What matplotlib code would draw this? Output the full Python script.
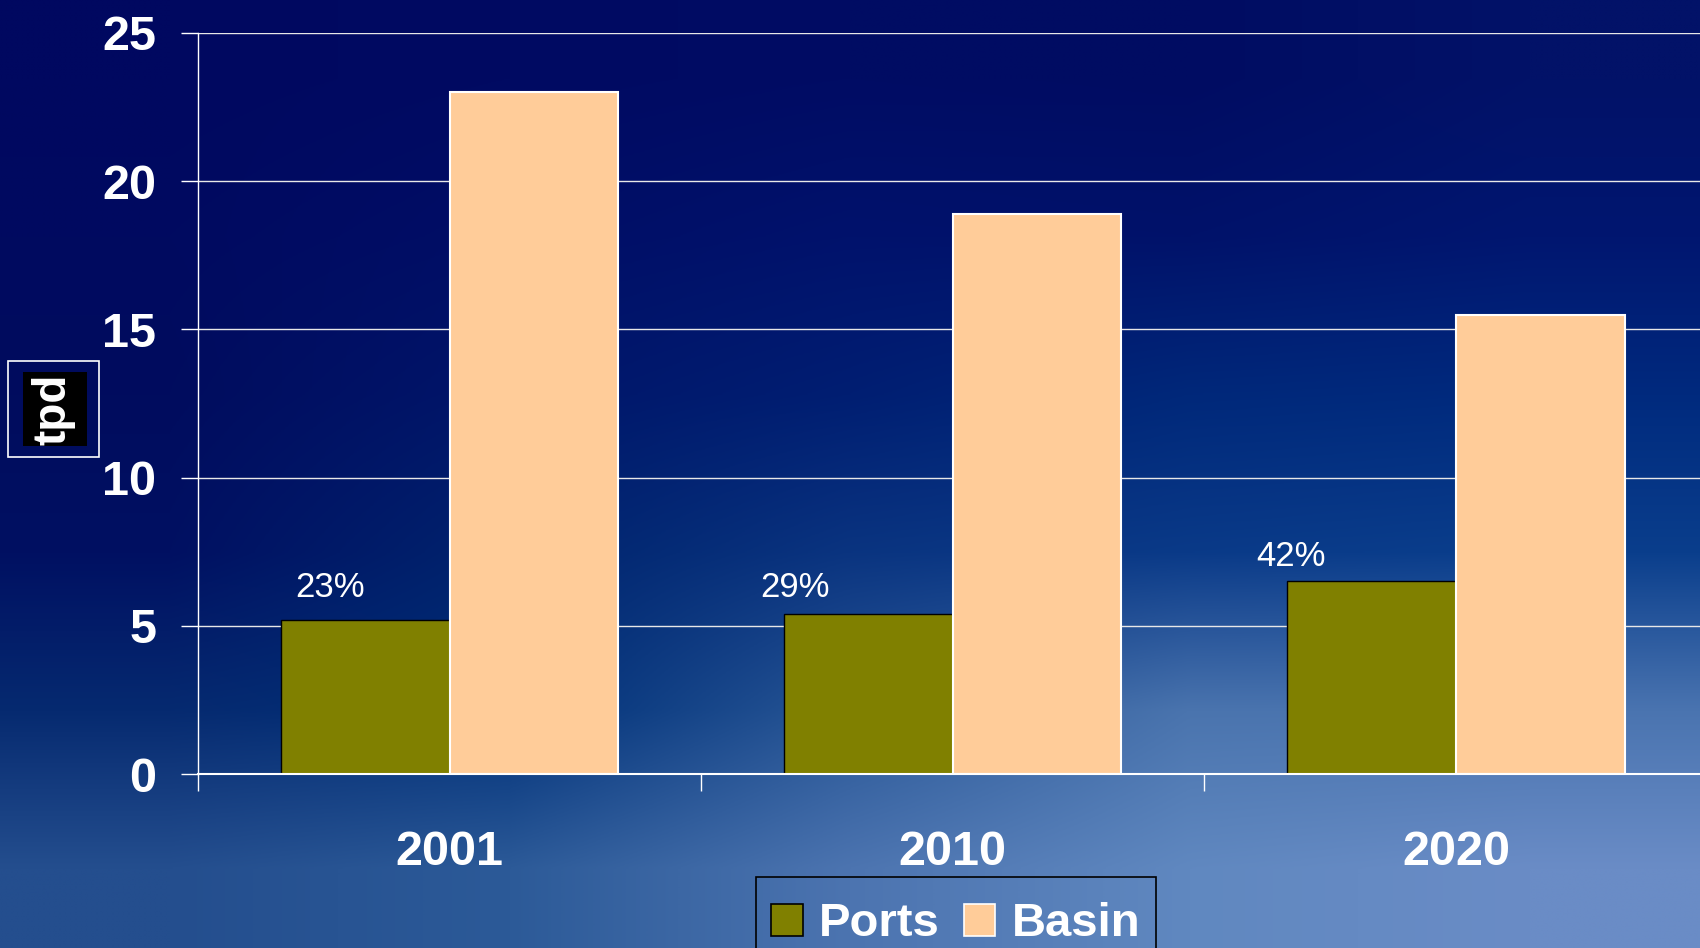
"""Ports vs Basin, tpd por ano - barras agrupadas sobre fundo azul."""
import numpy as np
import matplotlib
matplotlib.use("Agg")
import matplotlib.pyplot as plt
from matplotlib.patches import Patch, Rectangle
from matplotlib.colors import to_rgb

# dados
anos = ["2001", "2010", "2020"]
ports = [5.2, 5.4, 6.5]
basin = [23.0, 18.9, 15.5]
yticks = [0, 5, 10, 15, 20, 25]

COR_PORTS = "#808000"
COR_BASIN = "#FFCC99"

plt.rcParams["font.family"] = ["Liberation Sans", "DejaVu Sans"]

fig = plt.figure(figsize=(17, 9.48), dpi=100)

# fundo: gradiente azul (grade de cores suavizada), de cima para baixo
grade = [
    ["#000860", "#000a62", "#000c64", "#000c62", "#021268"],
    ["#000a60", "#000e66", "#00126c", "#00126a", "#001670"],
    ["#000c5e", "#00166a", "#001e72", "#00287a", "#002a7e"],
    ["#001062", "#00246e", "#0a3480", "#0a3a88", "#0a3e8c"],
    ["#062a70", "#003078", "#285696", "#4a74ae", "#4a74b0"],
    ["#244e8e", "#2c5a98", "#4c74b0", "#6088c0", "#6a8cc6"],
]
img = np.array([[to_rgb(c) for c in linha] for linha in grade])
bg = fig.add_axes([0, 0, 1, 1], zorder=-10)
bg.imshow(img, aspect="auto", interpolation="bilinear", extent=[0, 1, 0, 1])
bg.axis("off")

ax = fig.add_axes([0.1165, 0.1835, 0.888, 0.7817])
ax.set_facecolor("none")

x = np.arange(len(anos))
w = 0.335
ax.bar(x - w / 2, ports, w, color=COR_PORTS, edgecolor="black", linewidth=1.0, zorder=3)
ax.bar(x + w / 2, basin, w, color=COR_BASIN, edgecolor="white", linewidth=1.5, zorder=3)

# percentuais (ports / basin)
dx = [-0.07, -0.146, -0.16]
dy = [1.1, 0.9, 0.85]
for i, (p, b) in enumerate(zip(ports, basin)):
    ax.text(x[i] - w / 2 + dx[i], p + dy[i], f"{round(100 * p / b)}%", color="white",
            fontsize=25, ha="center", va="center", zorder=4)

ax.set_xlim(-0.5, len(anos) - 0.5)
ax.set_ylim(0, 25)
ax.set_yticks(yticks)
ax.yaxis.grid(True, color="#e8e8e8", lw=1.0, zorder=0)
ax.tick_params(axis="y", colors="white", length=12, width=1.0, pad=18,
               labelsize=35, direction="out")
for t in ax.get_yticklabels():
    t.set_fontweight("bold")

ax.set_xticks(np.arange(len(anos) + 1) - 0.5)
ax.set_xticklabels([])
ax.tick_params(axis="x", which="major", colors="white", length=12, width=1.0, direction="out")
ax.set_xticks(x, minor=True)
ax.set_xticklabels(anos, minor=True, fontsize=35, fontweight="bold", color="white")
ax.tick_params(axis="x", which="minor", length=0, pad=40)

for s in ("top", "right"):
    ax.spines[s].set_visible(False)
ax.spines["left"].set_color("white")
ax.spines["left"].set_linewidth(1.0)
ax.spines["bottom"].set_color("white")
ax.spines["bottom"].set_linewidth(1.5)
ax.spines["bottom"].set_zorder(5)

# rótulo do eixo y em caixa
fig.patches.append(Rectangle((0.0047, 0.5179), 0.0535, 0.1013, transform=fig.transFigure,
                             facecolor="none", edgecolor="white", lw=1.2))
fig.patches.append(Rectangle((0.0135, 0.5295), 0.0377, 0.0781, transform=fig.transFigure,
                             facecolor="black", edgecolor="none"))
fig.text(0.0316, 0.5686, "tpd", rotation=90, color="white", fontsize=33, fontweight="bold",
         ha="center", va="center")

# legenda (moldura desenhada à parte, cortada pela borda inferior)
fig.patches.append(Rectangle((0.4447, -0.03), 0.2353, 0.1049, transform=fig.transFigure,
                             facecolor="none", edgecolor="black", lw=1.2))
handles = [Patch(facecolor=COR_PORTS, edgecolor="black", lw=1.2),
           Patch(facecolor=COR_BASIN, edgecolor="white", lw=1.2)]
leg = fig.legend(handles, ["Ports", "Basin"], loc="center left", bbox_to_anchor=(0.4535, 0.025),
                 ncol=2, fontsize=34, frameon=False, borderaxespad=0, borderpad=0,
                 handlelength=0.67, handleheight=0.67, handletextpad=0.35, columnspacing=0.5)
for t in leg.get_texts():
    t.set_color("white")
    t.set_fontweight("bold")

fig.savefig("out.png", dpi=100)
